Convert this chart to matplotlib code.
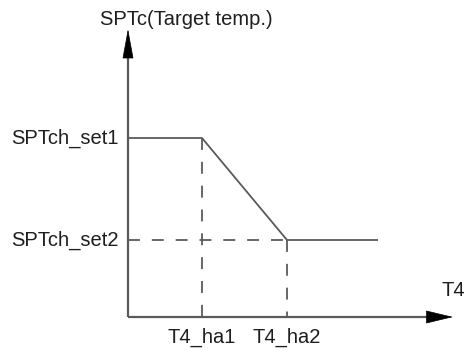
import matplotlib.pyplot as plt

plt.rcParams['font.family'] = ['Liberation Sans', 'DejaVu Sans']

# curve: SPTc against T4 (schematic units)
t4_points = [0.0, 0.74, 1.59, 2.50]
sptc_points = [1.79, 1.79, 0.77, 0.77]
t4_labels = ['T4_ha1', 'T4_ha2']
t4_ticks = [0.74, 1.59]
sptc_labels = ['SPTch_set1', 'SPTch_set2']
sptc_ticks = [1.79, 0.77]
x_axis_end = 3.25
y_axis_end = 2.88

line_c = '#5a5a5a'
text_c = '#1e1e1e'

fig = plt.figure(figsize=(4.67, 3.49), dpi=100)
ax = fig.add_axes([0, 0, 1, 1])
ax.set_xlim(-1.28, 3.39)
ax.set_ylim(-0.32, 3.17)
ax.axis('off')

# axes lines
ax.plot([0, x_axis_end - 0.2], [0, 0], color=line_c, lw=1.6, solid_capstyle='butt')
ax.plot([0, 0], [0, y_axis_end - 0.2], color=line_c, lw=1.6, solid_capstyle='butt')
# black arrow heads
ax.annotate('', xy=(x_axis_end, 0), xytext=(x_axis_end - 0.25, 0),
            arrowprops=dict(arrowstyle='-|>,head_length=18,head_width=4.3', mutation_scale=1,
                            color='black', lw=0.5, shrinkA=0, shrinkB=0))
ax.annotate('', xy=(0, y_axis_end), xytext=(0, y_axis_end - 0.27),
            arrowprops=dict(arrowstyle='-|>,head_length=19.5,head_width=3.6', mutation_scale=1,
                            color='black', lw=0.5, shrinkA=0, shrinkB=0))

# curve
ax.plot(t4_points, sptc_points, color=line_c, lw=1.3, solid_capstyle='butt')

# dashed guides
dash = (6.6, 6.6)
ax.plot([0, t4_ticks[1]], [sptc_ticks[1], sptc_ticks[1]], color=line_c, lw=1.3, dashes=dash)
ax.plot([t4_ticks[0], t4_ticks[0]], [sptc_ticks[0], 0], color=line_c, lw=1.3, dashes=dash)
ax.plot([t4_ticks[1], t4_ticks[1]], [sptc_ticks[1], 0], color=line_c, lw=1.3, dashes=dash)

# labels
fs = 14.5
for y, lab in zip(sptc_ticks, sptc_labels):
    ax.text(-0.09, y, lab, ha='right', va='center', fontsize=fs, color=text_c)
for x, lab in zip(t4_ticks, t4_labels):
    ax.text(x, -0.20, lab, ha='center', va='center', fontsize=fs, color=text_c)
ax.text(-0.28, 2.97, 'SPTc(Target temp.)', ha='left', va='center', fontsize=fs, color=text_c)
ax.text(3.25, 0.27, 'T4', ha='center', va='center', fontsize=fs, color=text_c)

plt.savefig('out.png', dpi=100)
